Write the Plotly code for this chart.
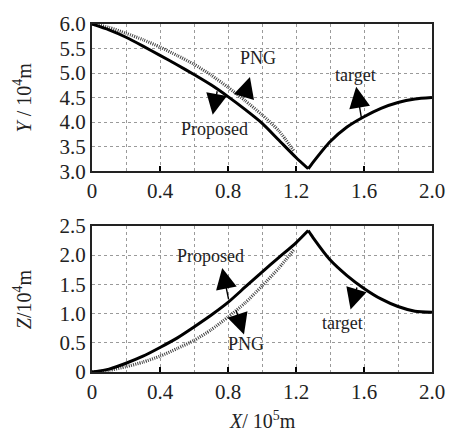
import plotly.graph_objects as go

# ---- data (X in 1e5 m, Y/Z in 1e4 m) ----
x_prop = [0, 0.1, 0.2, 0.3, 0.4, 0.5, 0.6, 0.7, 0.8, 0.9, 1.0, 1.1, 1.2, 1.272]
y_prop = [6.00, 5.88, 5.73, 5.55, 5.36, 5.17, 4.97, 4.76, 4.52, 4.26, 3.98, 3.63, 3.28, 3.05]
z_prop = [0, 0.05, 0.15, 0.27, 0.42, 0.58, 0.77, 0.97, 1.19, 1.45, 1.71, 1.96, 2.21, 2.42]

x_png = [0, 0.1, 0.2, 0.3, 0.4, 0.5, 0.6, 0.7, 0.8, 0.9, 1.0, 1.1, 1.19]
y_png = [6.00, 5.93, 5.81, 5.68, 5.53, 5.36, 5.18, 4.96, 4.71, 4.44, 4.15, 3.82, 3.40]
z_png = [0, 0.03, 0.09, 0.17, 0.27, 0.40, 0.54, 0.72, 0.94, 1.18, 1.47, 1.78, 2.10]

x_tgt = [1.272, 1.3, 1.4, 1.5, 1.6, 1.7, 1.8, 1.9, 2.0]
y_tgt = [3.05, 3.18, 3.60, 3.90, 4.11, 4.28, 4.40, 4.47, 4.50]
z_tgt = [2.42, 2.30, 1.92, 1.65, 1.43, 1.25, 1.12, 1.04, 1.02]

x_ticks = [0, 0.4, 0.8, 1.2, 1.6, 2.0]
x_ticktext = ["0", "0.4", "0.8", "1.2", "1.6", "2.0"]
y_ticks = [3.0, 3.5, 4.0, 4.5, 5.0, 5.5, 6.0]
y_ticktext = ["3.0", "3.5", "4.0", "4.5", "5.0", "5.5", "6.0"]
z_ticks = [0, 0.5, 1.0, 1.5, 2.0, 2.5]
z_ticktext = ["0", "0.5", "1.0", "1.5", "2.0", "2.5"]

FONT = "Times New Roman, Liberation Serif, DejaVu Serif, serif"
solid = dict(color="black", width=3, shape="spline", smoothing=0.6)
png_line = dict(color="#444444", width=3.2, dash="1px,1.2px", shape="spline", smoothing=0.6)

fig = go.Figure()
# top panel
fig.add_trace(go.Scatter(x=x_png, y=y_png, mode="lines", line=png_line, xaxis="x", yaxis="y"))
fig.add_trace(go.Scatter(x=x_prop, y=y_prop, mode="lines", line=solid, xaxis="x", yaxis="y"))
fig.add_trace(go.Scatter(x=x_tgt, y=y_tgt, mode="lines", line=solid, xaxis="x", yaxis="y"))
# bottom panel
fig.add_trace(go.Scatter(x=x_png, y=z_png, mode="lines", line=png_line, xaxis="x2", yaxis="y2"))
fig.add_trace(go.Scatter(x=x_prop, y=z_prop, mode="lines", line=solid, xaxis="x2", yaxis="y2"))
fig.add_trace(go.Scatter(x=x_tgt, y=z_tgt, mode="lines", line=solid, xaxis="x2", yaxis="y2"))

grid = dict(showgrid=True, gridcolor="#9a9a9a", griddash="dot", gridwidth=1)
tfont = dict(family=FONT, size=21, color="#222")
common_x = dict(range=[0, 2.0], tickvals=x_ticks, ticktext=x_ticktext, ticks="inside", ticklen=5,
                tickwidth=1.5, tickcolor="black", showline=True, linecolor="#222222", linewidth=2,
                mirror=True, zeroline=False, tickfont=tfont,
                minor=dict(dtick=0.2, tick0=0, showgrid=True, gridcolor="#9a9a9a", griddash="dot",
                           gridwidth=1, ticks=""), **grid)
common_y = dict(ticks="", showline=True,
                linecolor="#222222", linewidth=2, mirror=True, zeroline=False,
                tickfont=tfont, **grid)

fig.update_layout(
    width=457, height=436,
    margin=dict(l=92, r=17, t=15, b=64),
    plot_bgcolor="white", paper_bgcolor="white",
    showlegend=False,
    xaxis=dict(domain=[0, 1], anchor="y", **common_x),
    yaxis=dict(domain=[0.577, 1], anchor="x", range=[3.0, 6.0], tickvals=y_ticks,
               ticktext=y_ticktext, **common_y),
    xaxis2=dict(domain=[0, 1], anchor="y2", **common_x),
    yaxis2=dict(domain=[0, 0.42], anchor="x2", range=[0, 2.5], tickvals=z_ticks,
                ticktext=z_ticktext, **common_y),
)

afont = dict(family=FONT, size=18, color="#222")
arrow = dict(showarrow=True, arrowhead=2, arrowsize=3, arrowwidth=1.4, arrowcolor="black")


def arr(xr, yr, xt, yt, x0, y0):
    return dict(x=x0, y=y0, ax=xt, ay=yt, xref=xr, yref=yr, axref=xr, ayref=yr, text="", **arrow)


def lab(xr, yr, x0, y0, t):
    return dict(x=x0, y=y0, xref=xr, yref=yr, text=t, showarrow=False, font=afont,
                xanchor="center", yanchor="middle")


tt = dict(family=FONT, size=20, color="#222")
annos = [
    # top panel
    arr("x", "y", 0.898, 4.56, 0.929, 4.92),
    lab("x", "y", 0.977, 5.30, "PNG"),
    arr("x", "y", 0.738, 4.66, 0.710, 4.15),
    lab("x", "y", 0.718, 3.87, "Proposed"),
    arr("x", "y", 1.586, 4.06, 1.554, 4.72),
    lab("x", "y", 1.552, 4.97, "target"),
    # bottom panel
    arr("x2", "y2", 0.805, 1.22, 0.766, 1.78),
    lab("x2", "y2", 0.697, 1.98, "Proposed"),
    arr("x2", "y2", 0.845, 1.08, 0.894, 0.64),
    lab("x2", "y2", 0.908, 0.48, "PNG"),
    arr("x2", "y2", 1.561, 1.47, 1.521, 1.07),
    lab("x2", "y2", 1.473, 0.84, "target"),
    # axis titles
    dict(x=-0.205, y=0.79, xref="paper", yref="paper", showarrow=False, textangle=-90,
         xanchor="center", yanchor="middle",
         text="<i>Y</i> / 10<sup>4</sup>m", font=tt),
    dict(x=-0.205, y=0.21, xref="paper", yref="paper", showarrow=False, textangle=-90,
         xanchor="center", yanchor="middle",
         text="<i>Z</i>/10<sup>4</sup>m", font=tt),
    dict(x=0.5, y=-0.137, xref="paper", yref="paper", showarrow=False,
         xanchor="center", yanchor="middle",
         text="<i>X</i>/ 10<sup>5</sup>m", font=tt),
]
fig.update_layout(annotations=annos)

fig.write_html("out.html")
